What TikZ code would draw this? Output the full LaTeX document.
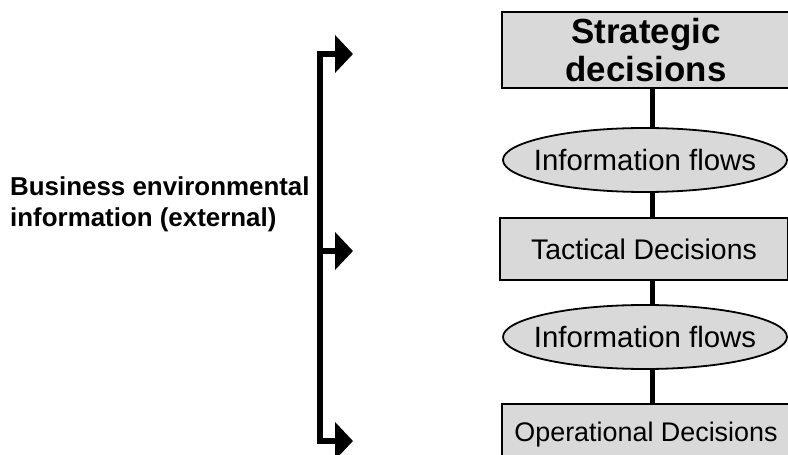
\documentclass[tikz,border=0pt]{standalone}
\usepackage{fontspec}
\setmainfont{Liberation Sans}
\usetikzlibrary{shapes.geometric,arrows.meta,backgrounds}
\definecolor{boxgray}{HTML}{D9D9D9}
% text that does not widen the shape around it
\newcommand{\flowtext}[1]{\makebox[0pt]{#1}}
\begin{document}
\begin{tikzpicture}[x=1bp,y=-1bp,
  decision/.style={draw=black, line width=1.5bp, fill=boxgray, rectangle,
    inner sep=0pt, align=center, minimum width=288bp,
    font=\fontsize{28.5}{33}\selectfont},
  flowbox/.style={draw=black, line width=1.8bp, fill=boxgray, ellipse,
    inner sep=0pt, minimum width=284bp, minimum height=64bp,
    font=\fontsize{29.5}{33}\selectfont},
  link/.style={line width=5bp},
  feed/.style={line width=6bp, line join=miter,
    arrows={-{Triangle[length=18bp,width=37bp]}}},
]
\useasboundingbox (0,0) rectangle (788,455);

% decision levels and the information flows between them
\node[decision, minimum height=76bp, font=\bfseries\fontsize{35}{38}\selectfont]
  (strat) at (646,50) {Strategic\\decisions};
\node[flowbox] (flow1) at (645,160) {\flowtext{Information flows}};
\node[decision, minimum height=62bp] (tact) at (644,249) {Tactical Decisions};
\node[flowbox] (flow2) at (645,337) {\flowtext{Information flows}};
\node[decision, minimum height=62bp, anchor=north,
  font=\fontsize{27}{32}\selectfont] (oper) at (646,403) {Operational Decisions};

% vertical spine linking the levels, behind the shapes
\coordinate (spine) at (652,0);
\begin{scope}[on background layer]
  \draw[link] (strat.center -| spine) -- (flow1.center -| spine);
  \draw[link] (flow1.center -| spine) -- (tact.center -| spine);
  \draw[link] (tact.center -| spine) -- (flow2.center -| spine);
  \draw[link] (flow2.center -| spine) -- (oper.center -| spine);
\end{scope}

% external information label
\node[anchor=west, align=left, inner sep=0pt,
  font=\bfseries\fontsize{26}{31}\selectfont]
  (env) at (10,204) {Business environmental\\information (external)};

% bracket feeding each level
\coordinate (top) at (320,54);
\coordinate (mid) at (320,251);
\coordinate (bot) at (320,441);
\coordinate (topend) at (353,54);
\coordinate (midend) at (353,251);
\coordinate (botend) at (353,441);
\draw[feed, {Triangle[length=18bp,width=37bp]}-{Triangle[length=18bp,width=37bp]}]
  (topend) -- (top) -- (bot) -- (botend);
\draw[feed] (mid) -- (midend);
\end{tikzpicture}
\end{document}
